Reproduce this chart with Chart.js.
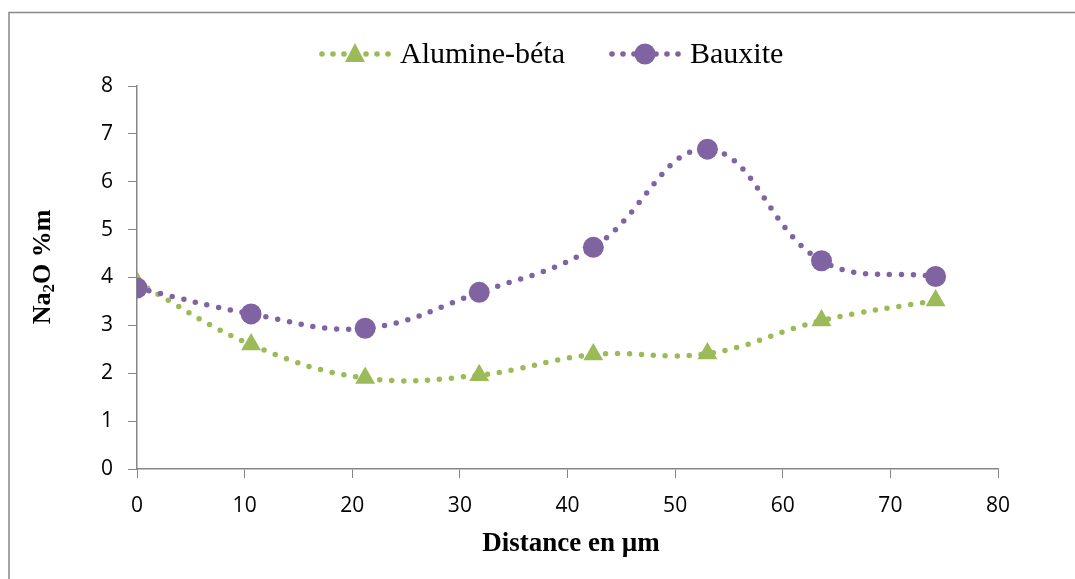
<!DOCTYPE html>
<html>
<head>
<meta charset="utf-8">
<script src="https://cdn.jsdelivr.net/npm/chart.js@4.4.1/dist/chart.umd.min.js"></script>
<style>
  html, body { margin: 0; padding: 0; background: #fff; }
  #wrap { position: relative; width: 1075px; height: 579px; }
</style>
</head>
<body>
<div id="wrap"><canvas id="naChart" width="1075" height="579"></canvas></div>
<script>
// distances (µm) and Na2O values
var distances = [0, 10.6, 21.2, 31.8, 42.4, 53.0, 63.6, 74.2];
var alumineBeta = [3.9, 2.6, 1.9, 1.96, 2.39, 2.41, 3.1, 3.52];
var bauxite = [3.78, 3.24, 2.94, 3.69, 4.63, 6.68, 4.35, 4.02];
var seriesNames = ['Alumine-béta', 'Bauxite'];
var xTicks = [0, 10, 20, 30, 40, 50, 60, 70, 80];
var yTicks = [0, 1, 2, 3, 4, 5, 6, 7, 8];

var green = '#9BBB59';
var purple = '#8064A2';
var axisGrey = '#868686';

function toPoints(xs, ys) {
    var pts = [];
    for (var i = 0; i < xs.length; i++) pts.push({ x: xs[i], y: ys[i] });
    return pts;
}

// frame, legend and axis titles drawn by hand (excel style)
var decorPlugin = {
    id: 'decor',
    afterDraw: function (chart) {
        var ctx = chart.ctx;
        ctx.save();
        // frame (left + top only visible)
        ctx.strokeStyle = '#888888';
        ctx.lineWidth = 1.5;
        ctx.beginPath();
        ctx.moveTo(9, 579);
        ctx.lineTo(9, 12.5);
        ctx.lineTo(1075, 12.5);
        ctx.stroke();

        // legend
        var items = [
            { name: seriesNames[0], color: green, shape: 'triangle', x0: 322 },
            { name: seriesNames[1], color: purple, shape: 'circle', x0: 612 }
        ];
        var ly = 54;
        items.forEach(function (it) {
            ctx.fillStyle = it.color;
            for (var k = 0; k < 7; k++) {
                if (k === 3) continue;
                ctx.beginPath();
                ctx.arc(it.x0 + k * 11, ly, 2.8, 0, Math.PI * 2);
                ctx.fill();
            }
            var cx = it.x0 + 33;
            ctx.beginPath();
            if (it.shape === 'circle') {
                ctx.arc(cx, ly, 10.5, 0, Math.PI * 2);
            } else {
                ctx.moveTo(cx, ly - 11);
                ctx.lineTo(cx + 10, ly + 8);
                ctx.lineTo(cx - 10, ly + 8);
                ctx.closePath();
            }
            ctx.fill();
            ctx.fillStyle = '#000';
            ctx.font = '30px "Liberation Serif", "Times New Roman", serif';
            ctx.textBaseline = 'middle';
            ctx.textAlign = 'left';
            ctx.fillText(it.name, it.x0 + 78, ly + 1);
        });

        // x title
        ctx.font = 'bold 27px "Liberation Serif", "Times New Roman", serif';
        ctx.textAlign = 'center';
        ctx.textBaseline = 'middle';
        ctx.fillText('Distance en µm', 571, 544);

        // y title with subscript
        ctx.translate(43, 267);
        ctx.rotate(-Math.PI / 2);
        var big = 'bold 26px "Liberation Serif", "Times New Roman", serif';
        var small = 'bold 17px "Liberation Serif", "Times New Roman", serif';
        ctx.font = big;
        var w1 = ctx.measureText('Na').width;
        var w3 = ctx.measureText('O %m').width;
        ctx.font = small;
        var w2 = ctx.measureText('2').width;
        var total = w1 + w2 + w3;
        var sx = -total / 2;
        ctx.textAlign = 'left';
        ctx.font = big;
        ctx.fillText('Na', sx, 0);
        ctx.font = small;
        ctx.fillText('2', sx + w1, 7);
        ctx.font = big;
        ctx.fillText('O %m', sx + w1 + w2, 0);
        ctx.restore();
    }
};

var tickFont = { family: '"Open Sans", Lato, sans-serif', size: 21 };

var ctx = document.getElementById('naChart').getContext('2d');
var config = {
    type: 'scatter',
    data: {
        datasets: [{
            label: seriesNames[0],
            data: toPoints(distances, alumineBeta),
            showLine: true,
            borderColor: green,
            backgroundColor: green,
            borderWidth: 5.5,
            borderDash: [0, 12],
            borderCapStyle: 'round',
            tension: 0.4,
            pointStyle: 'triangle',
            pointRadius: 11.5,
            pointBorderWidth: 0,
            pointBackgroundColor: green,
            order: 1
        }, {
            label: seriesNames[1],
            data: toPoints(distances, bauxite),
            showLine: true,
            borderColor: purple,
            backgroundColor: purple,
            borderWidth: 5.5,
            borderDash: [0, 12],
            borderCapStyle: 'round',
            tension: 0.4,
            pointStyle: 'circle',
            pointRadius: 10.5,
            pointBorderWidth: 0,
            pointBackgroundColor: purple,
            order: 0
        }]
    },
    options: {
        responsive: false,
        animation: false,
        layout: { padding: { left: 0, right: 77, top: 86, bottom: 0 } },
        plugins: {
            legend: { display: false },
            tooltip: { enabled: false }
        },
        scales: {
            x: {
                type: 'linear',
                min: 0,
                max: 80,
                afterBuildTicks: function (axis) {
                    axis.ticks = xTicks.map(function (v) { return { value: v }; });
                },
                afterFit: function (axis) { axis.height = 110; },
                ticks: {
                    color: '#000',
                    font: tickFont,
                    padding: 15,
                    maxRotation: 0
                },
                grid: { drawOnChartArea: false, drawTicks: true, tickLength: 9, color: axisGrey },
                border: { color: axisGrey, width: 1.5 }
            },
            y: {
                type: 'linear',
                min: 0,
                max: 8,
                afterBuildTicks: function (axis) {
                    axis.ticks = yTicks.map(function (v) { return { value: v }; });
                },
                afterFit: function (axis) { axis.width = 137; },
                ticks: {
                    color: '#000',
                    font: tickFont,
                    padding: 15
                },
                grid: { drawOnChartArea: false, drawTicks: true, tickLength: 9, color: axisGrey },
                border: { color: axisGrey, width: 1.5 }
            }
        }
    },
    plugins: [decorPlugin]
};
window.naChart = new Chart(ctx, config);
</script>
</body>
</html>
